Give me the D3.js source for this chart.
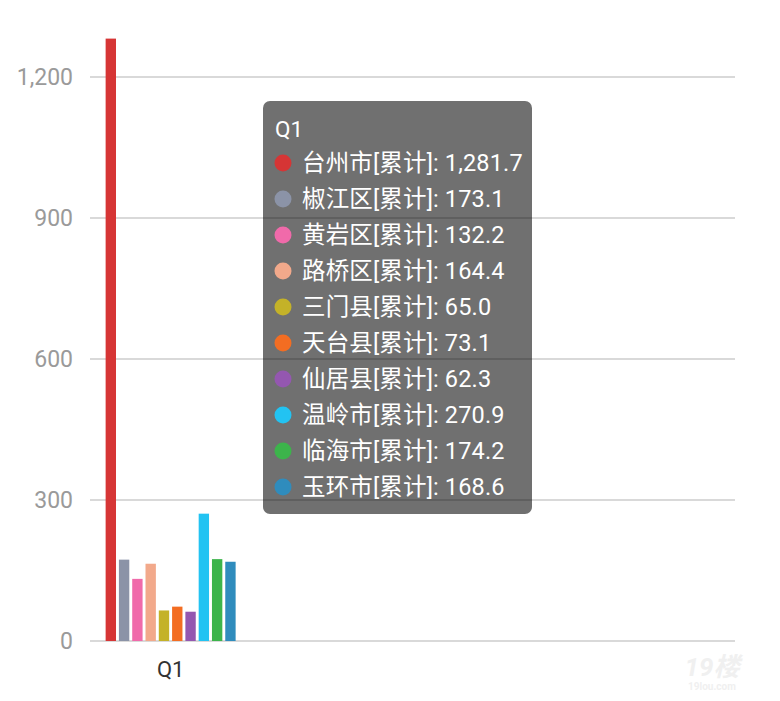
<!DOCTYPE html>
<html><head><meta charset="utf-8">
<script src="https://cdn.jsdelivr.net/npm/d3@7/dist/d3.min.js"></script>
<style>body{margin:0;background:#fff;}svg{display:block;font-family:Roboto,"Noto Sans CJK SC",sans-serif;}</style>
</head><body>
<svg id="c" width="780" height="701"></svg>
<script>
const quarters = ["Q1","Q2","Q3","Q4"];
const seriesNames = ["台州市[累计]","椒江区[累计]","黄岩区[累计]","路桥区[累计]","三门县[累计]","天台县[累计]","仙居县[累计]","温岭市[累计]","临海市[累计]","玉环市[累计]"];
const q1Values = [1281.7,173.1,132.2,164.4,65.0,73.1,62.3,270.9,174.2,168.6];
const colors = ["#d63535","#8b93a7","#f06aaa","#f2a98b","#c4b228","#f36d22","#9457b0","#22c3f2","#3cb44b","#2f8cbd"];
const yTicks = [0,300,600,900,1200];

(function(){
const svg = d3.select("#c");
const mLeft = 90, mRight = 735, mBottom = 641;
const y = d3.scaleLinear().domain([0,1300]).range([mBottom, mBottom - 1300*141/300]);
const x = d3.scaleBand().domain(quarters).range([mLeft,mRight]);
const inner = d3.scaleBand().domain(seriesNames).range([105, 235]).paddingInner(0.22);

svg.append("g").selectAll("line").data(yTicks).join("line")
  .attr("x1",mLeft).attr("x2",mRight).attr("y1",d=>y(d)).attr("y2",d=>y(d))
  .attr("stroke","#cccccc").attr("stroke-width",1.5);

const yAxis = d3.axisLeft(y).tickValues(yTicks).tickSize(0).tickPadding(0).tickFormat(d3.format(","));
const ya = svg.append("g").attr("transform",`translate(${mLeft-17},0)`).call(yAxis);
ya.select(".domain").remove();
ya.selectAll("text").attr("fill","#9a9a9a").attr("font-size",23).attr("font-family","Roboto,sans-serif");

const xAxis = d3.axisBottom(x).tickSize(0).tickPadding(0).tickFormat(d=> d==="Q1"?d:"");
const xa = svg.append("g").attr("transform",`translate(0,${mBottom+28})`).call(xAxis);
xa.select(".domain").remove();
xa.selectAll("text").attr("fill","#333").attr("font-size",22).attr("dy","0.36em").attr("font-family","Roboto,sans-serif");

const off = x("Q1") + x.bandwidth()/2 - (105+235)/2;
svg.append("g").selectAll("rect").data(q1Values).join("rect")
  .attr("x",(d,i)=>inner(seriesNames[i])+off)
  .attr("width",inner.bandwidth())
  .attr("y",d=>y(d)).attr("height",d=>mBottom-y(d))
  .attr("fill",(d,i)=>colors[i]);

const tt = svg.append("g").attr("transform","translate(263,101)");
tt.append("rect").attr("width",269).attr("height",413).attr("rx",7)
  .attr("fill","rgba(0,0,0,0.56)");
tt.append("text").attr("x",12).attr("y",36).attr("fill","#fff").attr("font-size",22.5).text("Q1");
const fmt = d3.format(",.1f");
const rows = tt.selectAll("g.row").data(q1Values).join("g").attr("class","row")
  .attr("transform",(d,i)=>`translate(0,${62+i*36})`);
rows.append("circle").attr("cx",20).attr("cy",0).attr("r",8.5).attr("fill",(d,i)=>colors[i]);
rows.append("text").attr("x",39).attr("y",0).attr("dy","0.36em").attr("fill","#fff").attr("font-size",23.5)
  .attr("letter-spacing",0.15)
  .text((d,i)=>`${seriesNames[i]}: ${fmt(d)}`);

svg.append("text").attr("x",712).attr("y",676).attr("text-anchor","middle").attr("fill","#f0f0f0")
  .attr("font-size",26).attr("font-weight","bold").attr("font-style","italic").text("19楼");
svg.append("text").attr("x",712).attr("y",690).attr("text-anchor","middle").attr("fill","#f0f0f0")
  .attr("font-size",10).attr("font-weight","bold").text("19lou.com");
})();
</script>
</body></html>
